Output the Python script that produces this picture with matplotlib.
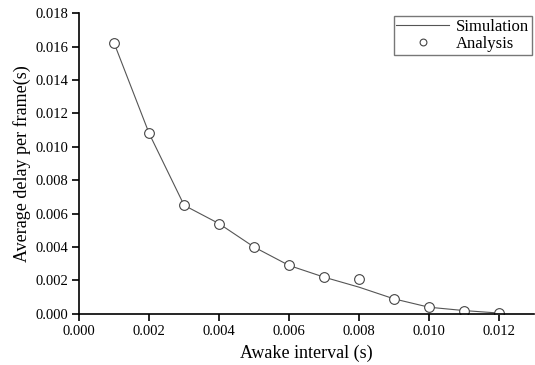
import numpy as np
import matplotlib.pyplot as plt

plt.rcParams['font.family'] = ['Liberation Serif', 'DejaVu Serif']

# awake interval (s)
interval = [0.001, 0.002, 0.003, 0.004, 0.005, 0.006, 0.007, 0.008, 0.009, 0.010, 0.011, 0.012]
# simulation curve
sim_delay = [0.0162, 0.0108, 0.0065, 0.0054, 0.0040, 0.0029, 0.0022, 0.0016, 0.0009, 0.0004, 0.0002, 0.00005]
# analysis points
ana_delay = [0.0162, 0.0108, 0.0065, 0.0054, 0.0040, 0.0029, 0.0022, 0.0021, 0.0009, 0.0004, 0.0002, 0.00005]

fig = plt.figure(figsize=(5.35, 3.65), dpi=100)
ax = fig.add_axes([0.148, 0.140, 0.850, 0.824])

ax.plot(interval, sim_delay, color='#555555', lw=0.8, label='Simulation')
ax.plot(interval, ana_delay, ls='none', marker='o', ms=7, mfc='white',
        mec='#444444', mew=0.8, label='Analysis')

ax.set_xlim(0, 0.013)
ax.set_ylim(0, 0.018)
ax.set_xticks(np.arange(0, 0.0121, 0.002))
ax.set_yticks(np.arange(0, 0.0181, 0.002))
ax.set_xticklabels(['%.3f' % v for v in np.arange(0, 0.0121, 0.002)])
ax.set_yticklabels(['%.3f' % v for v in np.arange(0, 0.0181, 0.002)])

for s in ['top', 'right']:
    ax.spines[s].set_visible(False)
for s in ['left', 'bottom']:
    ax.spines[s].set_linewidth(1.2)
ax.tick_params(direction='out', length=5, width=1.2, labelsize=10.5, pad=3)

ax.set_xlabel('Awake interval (s)', fontsize=13, labelpad=5)
ax.set_ylabel('Average delay per frame(s)', fontsize=13, labelpad=3)

leg = ax.legend(loc='upper right', bbox_to_anchor=(0.995, 0.99), fontsize=12,
                frameon=True, fancybox=False, borderpad=0.15, labelspacing=0.1,
                handlelength=3.2, handletextpad=0.4, borderaxespad=0,
                markerscale=0.7)
leg.get_frame().set_edgecolor('#555555')
leg.get_frame().set_linewidth(1.0)

fig.savefig('out.png', dpi=100)
